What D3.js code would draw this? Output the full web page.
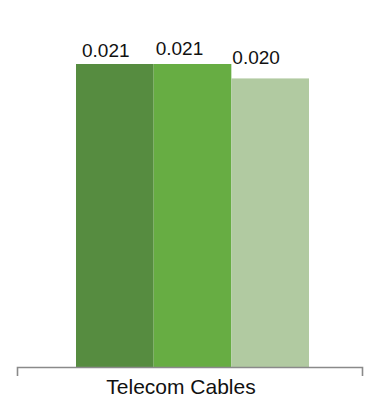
<!DOCTYPE html>
<html>
<head>
<meta charset="utf-8">
<script src="https://cdn.jsdelivr.net/npm/d3@7"></script>
<style>
  body { margin: 0; background: #fff; }
  svg { display: block; font-family: Arial, "Liberation Sans", sans-serif; }
</style>
</head>
<body>
<div id="chart"></div>
<script>
const categories = ['Telecom Cables'];
const seriesNames = ['Series 1', 'Series 2', 'Series 3'];
const seriesValues = [0.021, 0.021, 0.020];
const valueLabels = ['0.021', '0.021', '0.020'];

const colors = ['#568c40', '#67ad43', '#b1caa1'];
const width = 367;
const height = 399;
const baseY = 367;

const svg = d3
  .select('#chart')
  .append('svg')
  .attr('width', width)
  .attr('height', height);

// outer scale for the category, inner one for the series
const x0 = d3.scaleBand().domain(categories).range([17, 363]).padding(0);
const x1 = d3.scaleBand().domain(seriesNames).range([59, 292]).padding(0);

const y = d3.scaleLinear().domain([0, 0.021]).range([baseY, 64]);

const data = seriesNames.map((s, i) => ({
  cat: categories[0],
  name: s,
  value: seriesValues[i],
  label: valueLabels[i]
}));

const g = svg.append('g');

g.selectAll('rect')
  .data(data)
  .enter()
  .append('rect')
  .attr('x', (d) => x0(d.cat) + x1(d.name))
  .attr('y', (d) => y(d.value))
  .attr('width', x1.bandwidth())
  .attr('height', (d) => baseY - y(d.value))
  .style('fill', (_, i) => colors[i]);

// value labels (sit a bit left / above the bar tops like the original)
const dxs = [6, 2, 1];
const dys = [-7, -9, -14];
g.selectAll('.val')
  .data(data)
  .enter()
  .append('text')
  .attr('class', 'val')
  .attr('x', (d, i) => x0(d.cat) + x1(d.name) + dxs[i])
  .attr('y', (d, i) => y(d.value) + dys[i])
  .attr('font-size', 19)
  .attr('fill', '#111')
  .text((d) => d.label);

// axis line with end ticks
const axis = d3.axisBottom(x0).tickSize(0).tickPadding(20);
const ag = svg
  .append('g')
  .attr('transform', `translate(0,${baseY})`)
  .call(axis);
ag.select('.domain').remove();
ag.selectAll('text')
  .attr('font-size', 21)
  .attr('fill', '#111')
  .attr('font-family', 'Arial, "Liberation Sans", sans-serif')
  .attr('dx', -9)
  .attr('dy', '0.35em');

ag.append('path')
  .attr('d', `M17.5,9V0.5H362.5V9`)
  .attr('fill', 'none')
  .attr('stroke', '#8a8a8a')
  .attr('stroke-width', 1.6);
</script>
</body>
</html>
